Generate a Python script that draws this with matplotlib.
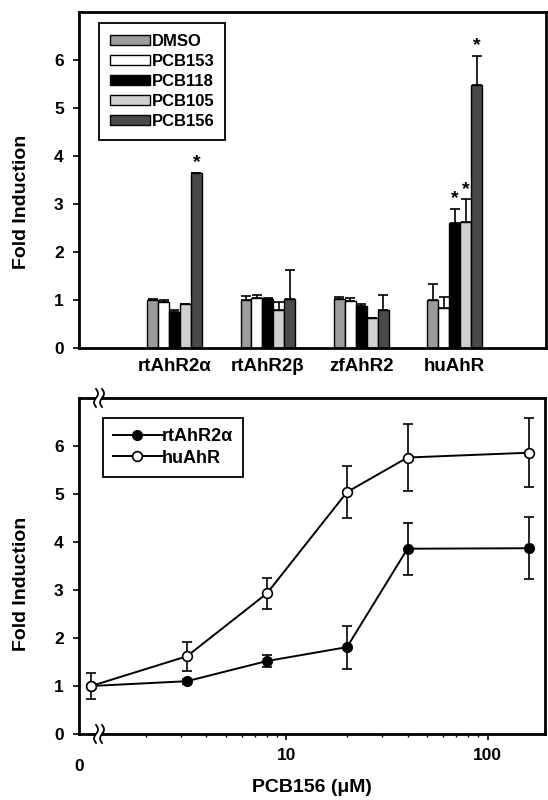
import numpy as np
import matplotlib
matplotlib.use("Agg")
import matplotlib.pyplot as plt
import matplotlib.transforms as mtransforms
from matplotlib.patches import Rectangle
from matplotlib.lines import Line2D

plt.rcParams['font.family'] = ['Liberation Sans', 'DejaVu Sans']
plt.rcParams['font.weight'] = 'bold'

# ---------------- data: top panel ----------------
categories = ['rtAhR2α', 'rtAhR2β', 'zfAhR2', 'huAhR']
series = ['DMSO', 'PCB153', 'PCB118', 'PCB105', 'PCB156']
DMSO = [0.99, 1.01, 1.02, 0.99]
PCB153 = [0.96, 1.05, 0.98, 0.84]
PCB118 = [0.74, 1.03, 0.87, 2.60]
PCB105 = [0.92, 0.80, 0.62, 2.62]
PCB156 = [3.65, 1.02, 0.80, 5.47]
DMSO_err = [0.04, 0.07, 0.05, 0.35]
PCB153_err = [0.05, 0.06, 0.07, 0.22]
PCB118_err = [0.05, 0.02, 0.04, 0.30]
PCB105_err = [0.0, 0.16, 0.0, 0.48]
PCB156_err = [0.0, 0.60, 0.30, 0.62]
# significance markers: (category index, series index)
stars = [(0, 4), (3, 2), (3, 3), (3, 4)]

# ---------------- data: bottom panel ----------------
conc = [1.07, 3.2, 8, 20, 40, 160]      # first point is the control ("0")
rt_vals = [1.0, 1.10, 1.52, 1.81, 3.86, 3.87]
rt_err = [0.0, 0.05, 0.13, 0.45, 0.54, 0.65]
hu_vals = [1.0, 1.62, 2.93, 5.04, 5.76, 5.86]
hu_err = [0.27, 0.30, 0.32, 0.55, 0.69, 0.72]
y_ticks = [0, 1, 2, 3, 4, 5, 6]

colors = ['#9c9c9c', '#ffffff', '#000000', '#d0d0d0', '#4a4a4a']

fig = plt.figure(figsize=(5.48, 8.0), dpi=100)
W, H = 548.0, 800.0
ax1 = fig.add_axes([79 / W, 1 - 348 / H, (546 - 79) / W, (348 - 12) / H])
ax2 = fig.add_axes([79 / W, 1 - 734 / H, (545 - 79) / W, (734 - 398) / H])

TICK_FS = 12.5
LABEL_FS = 14

# ---------------- top: grouped bars ----------------
vals = [DMSO, PCB153, PCB118, PCB105, PCB156]
errs = [DMSO_err, PCB153_err, PCB118_err, PCB105_err, PCB156_err]
x = np.arange(len(categories))
bw = 0.117
for i, (name, v, e, c) in enumerate(zip(series, vals, errs, colors)):
    pos = x + (i - 2) * bw
    ax1.bar(pos, v, width=bw, color=c, edgecolor='black', linewidth=1.0,
            label=name, zorder=2)
    ax1.errorbar(pos, v, yerr=[np.zeros(len(e)), e], fmt='none',
                 ecolor='black', elinewidth=1.2, capsize=3.5, capthick=1.2,
                 zorder=1)
for ci, si in stars:
    top = vals[si][ci] + errs[si][ci]
    ax1.text(x[ci] + (si - 2) * bw, top + 0.03, '*', ha='center', va='bottom',
             fontsize=14, fontweight='bold')

ax1.set_xlim(-1.022, 3.978)
ax1.set_ylim(0, 7)
ax1.set_xticks(x)
ax1.set_xticklabels(categories, fontsize=13.5, fontweight='bold')
ax1.tick_params(axis='x', length=0, pad=7)
ax1.set_yticks(y_ticks)
ax1.tick_params(axis='y', direction='out', length=4, width=1.2, pad=7,
                labelsize=TICK_FS)
ax1.set_ylabel('Fold Induction', fontsize=LABEL_FS, fontweight='bold')
ax1.yaxis.set_label_coords(-0.105, 0.435)
for sp in ax1.spines.values():
    sp.set_linewidth(2.0)
leg1 = ax1.legend(loc='upper left', bbox_to_anchor=(0.043, 0.967),
                  borderaxespad=0, fancybox=False, edgecolor='black',
                  framealpha=1, handlelength=2.4, handleheight=0.55,
                  handletextpad=0.1, labelspacing=0.3,
                  borderpad=0.65, prop={'size': 12, 'weight': 'bold'})
leg1.get_frame().set_linewidth(1.3)

# ---------------- bottom: dose response ----------------
ax2.set_xscale('log')
ax2.errorbar(conc, rt_vals, yerr=rt_err, fmt='-o', color='black',
             markerfacecolor='black', markeredgecolor='black', markersize=7,
             linewidth=1.4, elinewidth=1.2, capsize=3.3, capthick=1.2,
             zorder=2)
ax2.errorbar(conc, hu_vals, yerr=hu_err, fmt='-o', color='black',
             markerfacecolor='white', markeredgecolor='black', markersize=7,
             markeredgewidth=1.2, linewidth=1.4, elinewidth=1.2, capsize=3.3,
             capthick=1.2, zorder=3)
ax2.set_xlim(0.93, 193)
ax2.set_ylim(0, 7)
ax2.set_yticks(y_ticks)
ax2.set_xticks([10, 100])
ax2.set_xticklabels(['10', '100'])
ax2.tick_params(axis='x', which='major', direction='out', length=4, width=1.2,
                pad=6, labelsize=TICK_FS)
ax2.tick_params(axis='x', which='minor', direction='out', length=2.5,
                width=1.0)
ax2.tick_params(axis='y', direction='out', length=4, width=1.2, pad=7,
                labelsize=TICK_FS)
ax2.text(0.0, -0.075, '0', transform=ax2.transAxes, ha='center', va='top',
         fontsize=TICK_FS, fontweight='bold')
ax2.set_ylabel('Fold Induction', fontsize=LABEL_FS, fontweight='bold')
ax2.yaxis.set_label_coords(-0.105, 0.446)
ax2.set_xlabel('PCB156 (μM)', fontsize=LABEL_FS, fontweight='bold')
ax2.xaxis.set_label_coords(0.5, -0.135)
for sp in ax2.spines.values():
    sp.set_linewidth(2.0)
handles = [
    Line2D([], [], color='black', lw=1.4, marker='o', markersize=7,
           markerfacecolor='black', markeredgecolor='black'),
    Line2D([], [], color='black', lw=1.4, marker='o', markersize=7,
           markerfacecolor='white', markeredgecolor='black',
           markeredgewidth=1.2),
]
leg2 = ax2.legend(handles, ['rtAhR2α', 'huAhR'], loc='upper left',
                  bbox_to_anchor=(0.0515, 0.94),
                  borderaxespad=0, fancybox=False, edgecolor='black',
                  framealpha=1, handlelength=2.7, handletextpad=0.0,
                  labelspacing=0.25, borderpad=0.55,
                  prop={'size': 13, 'weight': 'bold'})
leg2.get_frame().set_linewidth(1.3)


def draw_break(ax, xfrac, yfrac):
    t = fig.dpi_scale_trans + mtransforms.ScaledTranslation(xfrac, yfrac,
                                                           ax.transAxes)
    ax.add_patch(Rectangle((-0.03, -0.03), 0.06, 0.06, transform=t,
                           facecolor='white', edgecolor='none',
                           clip_on=False, zorder=5))
    s = np.linspace(-1, 1, 40)
    for off in (-0.03, 0.03):
        xs = off + 0.02 * np.sin(np.pi * s)
        ys = 0.09 * s
        ax.plot(xs, ys, transform=t, color='black', lw=1.3, clip_on=False,
                zorder=6)


draw_break(ax2, 0.043, 0.0)
draw_break(ax2, 0.043, 1.0)

fig.savefig('out.png', dpi=100)
